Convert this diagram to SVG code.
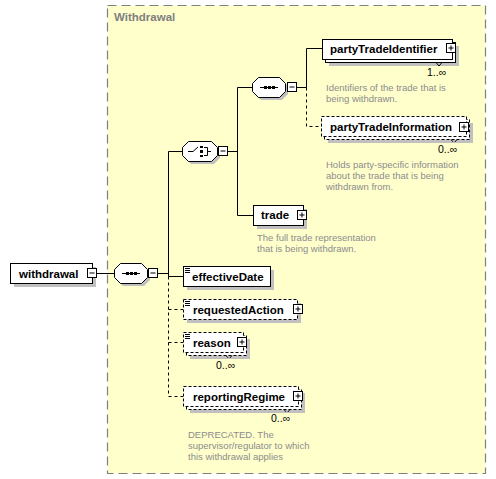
<svg xmlns="http://www.w3.org/2000/svg" width="496" height="479" viewBox="0 0 496 479">
<defs>
<style>
.lbl{font-family:"Liberation Sans",Arial,sans-serif;font-weight:bold;font-size:11.5px;fill:#000}
.desc{font-family:"Liberation Sans",Arial,sans-serif;font-size:9.5px;fill:#8c8c8c}
.mult{font-family:"Liberation Sans",Arial,sans-serif;font-size:10.5px;fill:#000}
.box{fill:#fff;stroke:#000;stroke-width:1}
.dbox{fill:#fff;stroke:#000;stroke-width:1;stroke-dasharray:3,2}
.shd{fill:#c0c0c0}
.btn{fill:#fff;stroke:#000;stroke-width:1}
.ln{stroke:#000;stroke-width:1;fill:none}
.dl{stroke:#000;stroke-width:1;fill:none;stroke-dasharray:3,3}
</style>
<g id="plus"><rect class="btn" x="0.5" y="0.5" width="9" height="9"/><path class="ln" d="M2.5 5H7.5M5 2.5V7.5"/></g>
<g id="minus"><rect class="btn" x="0.5" y="0.5" width="9" height="9"/><path class="ln" d="M2.5 5H7.5"/></g>
<g id="simple"><path class="ln" d="M2 2.5H7M2 4.5H7M2 6.5H7"/></g>
</defs>
<rect width="496" height="479" fill="#fff"/>
<g id="group-withdrawal">
<rect x="107.5" y="5.5" width="378" height="468" fill="#FFFFCC" stroke="#808080" stroke-width="1.2" stroke-dasharray="9,5"/>
<text x="114" y="21" font-family="Liberation Sans,Arial,sans-serif" font-weight="bold" font-size="11.5" fill="#808080">Withdrawal</text>
</g>
<g id="connectors">
<path class="ln" d="M97 273.5H114"/>
<path class="ln" d="M158 273.5H168.5"/>
<path class="ln" d="M168.5 151.5V276.5"/>
<path class="dl" d="M168.5 276.5V396.5"/>
<path class="ln" d="M168.5 151.5H182"/>
<path class="ln" d="M168.5 276.5H183"/>
<path class="dl" d="M168.5 309.5H183"/>
<path class="dl" d="M168.5 342.5H183"/>
<path class="dl" d="M168.5 396.5H183"/>
<path class="ln" d="M228 151.5H237.5"/>
<path class="ln" d="M237.5 87.5V215.5"/>
<path class="ln" d="M237.5 87.5H252"/>
<path class="ln" d="M237.5 215.5H253"/>
<path class="ln" d="M297 87.5H306.5V48.5H322"/>
<path class="dl" d="M306.5 87.5V126.5H322"/>
</g>
<g id="withdrawal">
<rect class="shd" x="14" y="267" width="82" height="20"/>
<rect class="box" x="10.5" y="263.5" width="82" height="20"/>
<text class="lbl" x="19" y="278">withdrawal</text>
<use href="#minus" x="87" y="268"/>
</g>
<g id="seq-main">
<polygon class="shd" points="123,266 144,266 150,272 150,280 144,286 123,286 117,280 117,272"/>
<polygon class="box" points="120.5,263.5 141.5,263.5 147.5,269.5 147.5,277.5 141.5,283.5 120.5,283.5 114.5,277.5 114.5,269.5"/>
<path class="ln" d="M122 273.5H140"/>
<rect x="126" y="272" width="3" height="3" fill="#000"/><rect x="130" y="272" width="3" height="3" fill="#000"/><rect x="134" y="272" width="3" height="3" fill="#000"/>
<use href="#minus" x="148" y="268"/>
</g>
<g id="choice">
<polygon class="shd" points="191,144 214,144 220,150 220,158 214,164 191,164 185,158 185,150"/>
<polygon class="box" points="188.5,141.5 211.5,141.5 217.5,147.5 217.5,155.5 211.5,161.5 188.5,161.5 182.5,155.5 182.5,147.5"/>
<path class="ln" d="M188 151.5H193L198 147"/>
<rect x="200" y="146" width="3" height="2" fill="#000"/><rect x="200" y="150" width="3" height="3" fill="#000"/><rect x="200" y="155" width="3" height="2" fill="#000"/>
<path class="ln" d="M204 147.5H207.5V155.5H204M207.5 151.5H211"/>
<use href="#minus" x="218" y="146"/>
</g>
<g id="seq-inner">
<polygon class="shd" points="261,80 282,80 288,86 288,94 282,100 261,100 255,94 255,86"/>
<polygon class="box" points="258.5,77.5 279.5,77.5 285.5,83.5 285.5,91.5 279.5,97.5 258.5,97.5 252.5,91.5 252.5,83.5"/>
<path class="ln" d="M260 87.5H278"/>
<rect x="264" y="86" width="3" height="3" fill="#000"/><rect x="268" y="86" width="3" height="3" fill="#000"/><rect x="272" y="86" width="3" height="3" fill="#000"/>
<use href="#minus" x="287" y="82"/>
</g>
<g id="partyTradeIdentifier">
<rect class="shd" x="329" y="46" width="130" height="20"/>
<rect class="box" x="325.5" y="42.5" width="130" height="20"/>
<rect class="box" x="322.5" y="39.5" width="130" height="20"/>
<path class="ln" d="M436 62.5L439 66L442 62.5"/>
<text class="lbl" x="330" y="53">partyTradeIdentifier</text>
<use href="#plus" x="446" y="43"/>
<text class="mult" x="427" y="76">1..∞</text>
<text class="desc" x="326" y="91">Identifiers of the trade that is</text>
<text class="desc" x="326" y="102">being withdrawn.</text>
</g>
<g id="partyTradeInformation">
<rect class="shd" x="328" y="123" width="145" height="20"/>
<rect class="dbox" x="324.5" y="119.5" width="145" height="20"/>
<rect class="dbox" x="321.5" y="116.5" width="145" height="20"/>
<path class="dl" d="M451 139.5L454 143L457 139.5"/>
<text class="lbl" x="330" y="131">partyTradeInformation</text>
<use href="#plus" x="459" y="122"/>
<text class="mult" x="438" y="153">0..∞</text>
<text class="desc" x="326" y="168">Holds party-specific information</text>
<text class="desc" x="326" y="179">about the trade that is being</text>
<text class="desc" x="326" y="190">withdrawn from.</text>
</g>
<g id="trade">
<rect class="shd" x="257" y="209" width="50" height="20"/>
<rect class="box" x="253.5" y="205.5" width="50" height="20"/>
<text class="lbl" x="261" y="219">trade</text>
<use href="#plus" x="297" y="210"/>
<text class="desc" x="257" y="241">The full trade representation</text>
<text class="desc" x="257" y="252">that is being withdrawn.</text>
</g>
<g id="effectiveDate">
<rect class="shd" x="187" y="270" width="87" height="20"/>
<rect class="box" x="183.5" y="266.5" width="87" height="20"/>
<use href="#simple" x="183" y="266"/>
<text class="lbl" x="192" y="281">effectiveDate</text>
</g>
<g id="requestedAction">
<rect class="shd" x="187" y="303" width="114" height="20"/>
<rect class="dbox" x="183.5" y="299.5" width="114" height="20"/>
<use href="#simple" x="183" y="299"/>
<text class="lbl" x="193" y="314">requestedAction</text>
<use href="#plus" x="293" y="304"/>
</g>
<g id="reason">
<rect class="shd" x="190" y="339" width="60" height="20"/>
<rect class="dbox" x="186.5" y="335.5" width="60" height="20"/>
<rect class="dbox" x="183.5" y="332.5" width="60" height="20"/>
<path class="dl" d="M226 355.5L229 359L232 355.5"/>
<use href="#simple" x="183" y="332"/>
<text class="lbl" x="193" y="347">reason</text>
<use href="#plus" x="237" y="337"/>
<text class="mult" x="216" y="369">0..∞</text>
</g>
<g id="reportingRegime">
<rect class="shd" x="190" y="393" width="115" height="20"/>
<rect class="dbox" x="186.5" y="389.5" width="115" height="20"/>
<rect class="dbox" x="183.5" y="386.5" width="115" height="20"/>
<path class="dl" d="M284 409.5L287 413L290 409.5"/>
<text class="lbl" x="193" y="401">reportingRegime</text>
<use href="#plus" x="293" y="391"/>
<text class="mult" x="271" y="422">0..∞</text>
<text class="desc" x="188" y="438">DEPRECATED. The</text>
<text class="desc" x="188" y="449">supervisor/regulator to which</text>
<text class="desc" x="188" y="460">this withdrawal applies</text>
</g>
</svg>
